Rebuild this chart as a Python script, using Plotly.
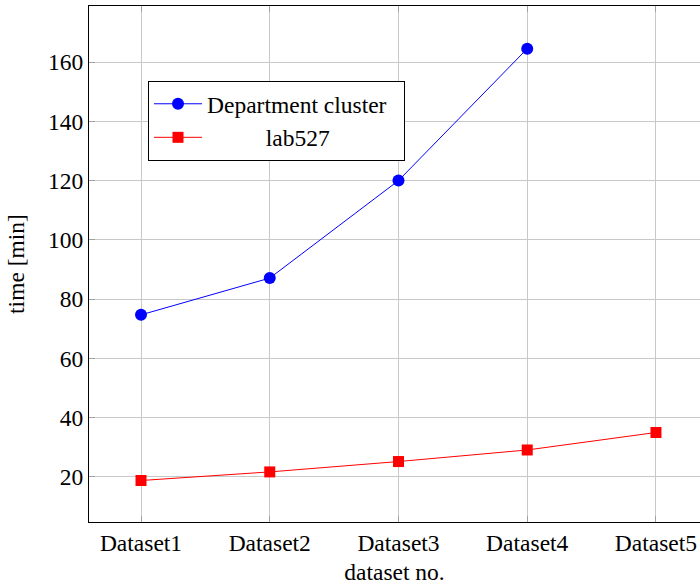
import plotly.graph_objects as go

categories = ["Dataset1", "Dataset2", "Dataset3", "Dataset4", "Dataset5"]
dept_cluster = [74.7, 87.1, 120.0, 164.5]
lab527 = [18.8, 21.7, 25.2, 29.1, 35.0]
y_ticks = [20, 40, 60, 80, 100, 120, 140, 160]

FONT = "Liberation Serif"
FS = 23.5

fig = go.Figure()
fig.add_trace(go.Scatter(
    x=categories[:len(dept_cluster)], y=dept_cluster, name="Department cluster\u00a0\u00a0",
    mode="lines+markers",
    line=dict(color="#0000ff", width=1),
    marker=dict(symbol="circle", size=12, color="#0000ff"),
))
fig.add_trace(go.Scatter(
    x=categories, y=lab527, name="\u00a0" * 10 + "lab527",
    mode="lines+markers",
    line=dict(color="#ff0000", width=1),
    marker=dict(symbol="square", size=11, color="#ff0000"),
))

fig.update_layout(
    width=700, height=586,
    margin=dict(l=89, r=0, t=6, b=64),
    paper_bgcolor="white", plot_bgcolor="white",
    font=dict(family=FONT, size=FS, color="black"),
    showlegend=True,
    legend=dict(
        x=(148 - 89) / 611, y=1 - (81 - 6) / 516,
        xanchor="left", yanchor="top",
        bgcolor="white", bordercolor="black", borderwidth=1,
        font=dict(family=FONT, size=FS, color="black"),
        itemwidth=48, tracegroupgap=0,
    ),
    xaxis=dict(
        type="category", categoryorder="array", categoryarray=categories,
        range=[-0.404, 4.342],
        showline=True, linecolor="black", linewidth=1, mirror="ticks",
        showgrid=True, gridcolor="#c8c8c8", gridwidth=1,
        ticks="inside", ticklen=6, tickcolor="#a0a0a0",
        tickfont=dict(family=FONT, size=FS, color="black"),
        title=dict(text="dataset no.", font=dict(family=FONT, size=FS, color="black"), standoff=8),
        zeroline=False,
    ),
    yaxis=dict(
        range=[4.8, 178.9],
        tickvals=y_ticks,
        showline=True, linecolor="black", linewidth=1, mirror=False,
        showgrid=True, gridcolor="#c8c8c8", gridwidth=1,
        ticks="inside", ticklen=6, tickcolor="#a0a0a0",
        tickfont=dict(family=FONT, size=FS, color="black"),
        title=dict(text="time [min]", font=dict(family=FONT, size=FS, color="black"), standoff=16),
        zeroline=False,
    ),
)

fig.write_html("out.html")
